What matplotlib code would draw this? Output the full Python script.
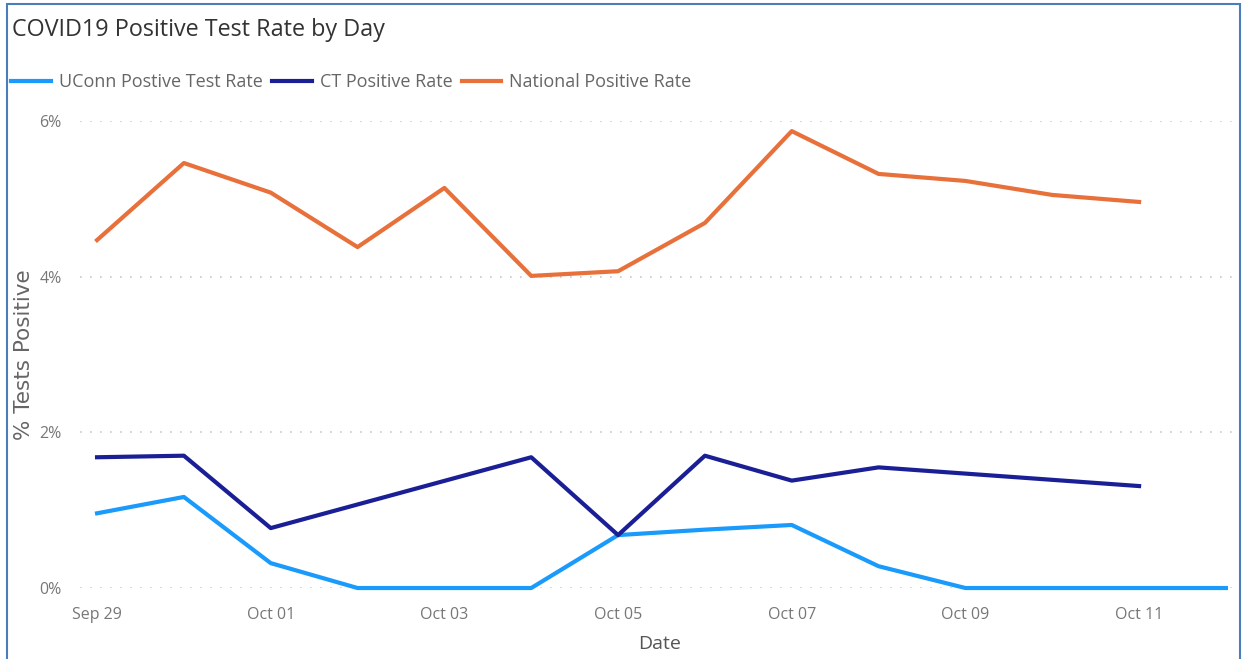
import pandas as pd
import matplotlib.pyplot as plt
import matplotlib.dates as mdates
from matplotlib.patches import Rectangle

uconn_dates = pd.date_range("2020-09-29", "2020-10-12")
uconn_rate = [0.96, 1.17, 0.32, 0, 0, 0, 0.68, 0.75, 0.81, 0.28, 0, 0, 0, 0]

ct_dates = pd.to_datetime(["2020-09-29", "2020-09-30", "2020-10-01", "2020-10-04", "2020-10-05",
                           "2020-10-06", "2020-10-07", "2020-10-08", "2020-10-11"])
ct_rate = [1.68, 1.70, 0.77, 1.68, 0.68, 1.70, 1.38, 1.55, 1.31]

national_dates = pd.date_range("2020-09-29", "2020-10-11")
national_rate = [4.47, 5.46, 5.08, 4.38, 5.14, 4.01, 4.07, 4.69, 5.87, 5.32, 5.23, 5.05, 4.96]

y_ticks = [0, 2, 4, 6]
x_ticks = pd.date_range("2020-09-29", "2020-10-11", freq="2D")

font = ["Open Sans", "DejaVu Sans"]
grey = "#666666"

fig = plt.figure(figsize=(12.45, 6.59), dpi=100)
ax = fig.add_axes([0.064, 0.1077, 0.932, 0.7087])

ax.plot(uconn_dates, uconn_rate, color="#1A9BFC", lw=3, label="UConn Postive Test Rate", clip_on=False)
ax.plot(ct_dates, ct_rate, color="#1A1F96", lw=3, label="CT Positive Rate", clip_on=False)
ax.plot(national_dates, national_rate, color="#E8703A", lw=3, label="National Positive Rate", clip_on=False)

ax.set_ylim(0, 6)
ax.set_xlim(pd.Timestamp("2020-09-29") - pd.Timedelta(hours=4.8),
            pd.Timestamp("2020-10-12") + pd.Timedelta(hours=3.9))
ax.set_yticks(y_ticks)
ax.set_yticklabels([f"{v}%" for v in y_ticks], family=font, fontsize=11.5, color="#777777")
ax.set_xticks(x_ticks)
ax.xaxis.set_major_formatter(mdates.DateFormatter("%b %d"))
for lbl in ax.get_xticklabels():
    lbl.set_family(font)
    lbl.set_fontsize(11.5)
    lbl.set_color("#777777")
ax.tick_params(length=0)
ax.tick_params(axis="x", pad=14)
ax.tick_params(axis="y", pad=13)
ax.grid(axis="y", color="#c8c8c8", linestyle=(0, (1, 5)), lw=1.2)
for s in ax.spines.values():
    s.set_visible(False)

ax.set_xlabel("Date", family=font, fontsize=14, color="#555555", labelpad=8)
ax.set_ylabel("% Tests Positive", fontsize=15.5, color=grey, labelpad=4)

fig.text(0.0096, 0.955, "COVID19 Positive Test Rate by Day", family=font, fontsize=16.8,
         color="#333333", va="center")
ax.legend(loc="lower left", bbox_to_anchor=(0.009, 0.862), bbox_transform=fig.transFigure,
          ncol=3, frameon=False, prop={"family": font, "size": 13}, labelcolor=grey,
          handlelength=2.2, handletextpad=0.45, columnspacing=0.5, borderaxespad=0, borderpad=0)

fig.patches.append(Rectangle((0.006, -0.01), 0.99, 1.004, transform=fig.transFigure,
                             fill=False, edgecolor="#4A7EBB", lw=1.5))

fig.savefig("out.png", dpi=100)
